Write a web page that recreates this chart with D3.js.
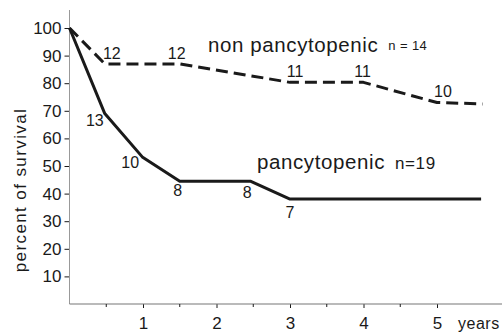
<!DOCTYPE html>
<html>
<head>
<meta charset="utf-8">
<script src="https://cdn.jsdelivr.net/npm/d3@7"></script>
<style>
  html, body { margin: 0; padding: 0; background: #fff; }
  svg { display: block; font-family: "Liberation Sans", Arial, sans-serif; }
</style>
</head>
<body>
<svg id="chart" width="502" height="332"></svg>
<script>
// Survival curves: years after diagnosis vs percent surviving
const yearTicks = [1, 2, 3, 4, 5];
const halfYearTicks = [0.5, 1.5, 2.5, 3.5, 4.5];
const percentTicks = [10, 20, 30, 40, 50, 60, 70, 80, 90, 100];

const pancyYears   = [0, 0.48, 0.99, 1.5, 2.46, 3, 5.6];
const pancyPercent = [100, 69, 53.3, 44.5, 44.5, 38, 38];
const pancyAtRisk  = ["", "13", "10", "8", "8", "7", ""];

const nonPancyYears   = [0, 0.48, 1.5, 3, 4, 5, 5.62];
const nonPancyPercent = [100, 87, 87, 80.3, 80.3, 73, 72.5];
const nonPancyAtRisk  = ["", "12", "12", "11", "11", "10", ""];

const svg = d3.select("#chart");
const x = d3.scaleLinear().domain([0, 1]).range([69.5, 143]);
const y = d3.scaleLinear().domain([0, 100]).range([304, 28]);
const ink = "#1a1a1a";
const fam = "Liberation Sans, Arial, sans-serif";

// y axis
const yAxis = svg.append("g").attr("transform", `translate(${x(0)},0)`)
  .call(d3.axisLeft(y).tickValues(percentTicks).tickSize(5).tickPadding(3));
yAxis.select(".domain").remove();
yAxis.append("line").attr("x1", 0).attr("x2", 0).attr("y1", 10).attr("y2", y(0))
  .attr("stroke", "#999").attr("stroke-width", 1);
yAxis.selectAll(".tick line").attr("stroke", ink).attr("stroke-width", 1);
yAxis.selectAll(".tick text").attr("fill", ink).style("font-size", "17px")
  .style("font-family", fam);

// x axis
const xAxis = svg.append("g").attr("transform", `translate(0,${y(0)})`)
  .call(d3.axisBottom(x).tickValues(yearTicks).tickFormat(d3.format("d"))
    .tickSize(4).tickPadding(9));
xAxis.select(".domain").remove();
xAxis.append("line").attr("x1", x(0)).attr("x2", 502).attr("y1", 0).attr("y2", 0)
  .attr("stroke", "#777").attr("stroke-width", 1.2);
xAxis.selectAll(".tick line").attr("stroke", ink);
xAxis.selectAll(".tick text").attr("fill", ink).style("font-size", "17px")
  .style("font-family", fam);
xAxis.selectAll(".minor").data(halfYearTicks).enter().append("line")
  .attr("x1", d => x(d)).attr("x2", d => x(d)).attr("y1", 0).attr("y2", 3)
  .attr("stroke", ink);
svg.append("text").attr("x", 458).attr("y", 329).attr("fill", ink)
  .style("font-size", "16px").style("letter-spacing", "0.5px").text("years");

// y label
svg.append("text")
  .attr("transform", `translate(26,${190}) rotate(-90)`)
  .attr("text-anchor", "middle").attr("fill", ink)
  .style("font-size", "17px").style("letter-spacing", "1.4px").text("percent of survival");

const line = d3.line().x(d => x(d[0])).y(d => y(d[1]));

// non pancytopenic (dashed)
svg.append("path")
  .datum(nonPancyYears.map((t, i) => [t, nonPancyPercent[i]]))
  .attr("d", line).attr("fill", "none").attr("stroke", ink)
  .attr("stroke-width", 3).attr("stroke-dasharray", "12,6")
  .attr("stroke-linejoin", "round");

// pancytopenic (solid)
svg.append("path")
  .datum(pancyYears.map((t, i) => [t, pancyPercent[i]]))
  .attr("d", line).attr("fill", "none").attr("stroke", ink)
  .attr("stroke-width", 3).attr("stroke-linejoin", "round");

// number at risk labels
const labelFont = "16px";
const nonPancyOffsets = [null, [7, -5], [-3, -5], [5, -5], [-1, -5], [6, -6], null];
nonPancyYears.forEach((t, i) => {
  if (!nonPancyAtRisk[i]) return;
  const o = nonPancyOffsets[i];
  svg.append("text").attr("x", x(t) + o[0]).attr("y", y(nonPancyPercent[i]) + o[1])
    .attr("text-anchor", "middle").attr("fill", ink).style("font-size", labelFont)
    .text(nonPancyAtRisk[i]);
});
const pancyOffsets = [null, [-10, 12], [-12, 11], [-2, 15], [-3, 17], [0, 19], null];
pancyYears.forEach((t, i) => {
  if (!pancyAtRisk[i]) return;
  const o = pancyOffsets[i];
  svg.append("text").attr("x", x(t) + o[0]).attr("y", y(pancyPercent[i]) + o[1])
    .attr("text-anchor", "middle").attr("fill", ink).style("font-size", labelFont)
    .text(pancyAtRisk[i]);
});

// series names
const np = svg.append("text").attr("x", 208).attr("y", 52).attr("fill", ink)
  .style("font-size", "20.5px").style("letter-spacing", "0.6px");
np.append("tspan").text("non pancytopenic");
np.append("tspan").attr("dx", 10).attr("dy", -2).style("font-size", "13px")
  .style("letter-spacing", "0.4px").text("n = 14");

const pc = svg.append("text").attr("x", 257).attr("y", 169).attr("fill", ink)
  .style("font-size", "20.5px").style("letter-spacing", "0.6px");
pc.append("tspan").text("pancytopenic");
pc.append("tspan").attr("dx", 10).style("font-size", "17px").text("n=19");
</script>
</body>
</html>
